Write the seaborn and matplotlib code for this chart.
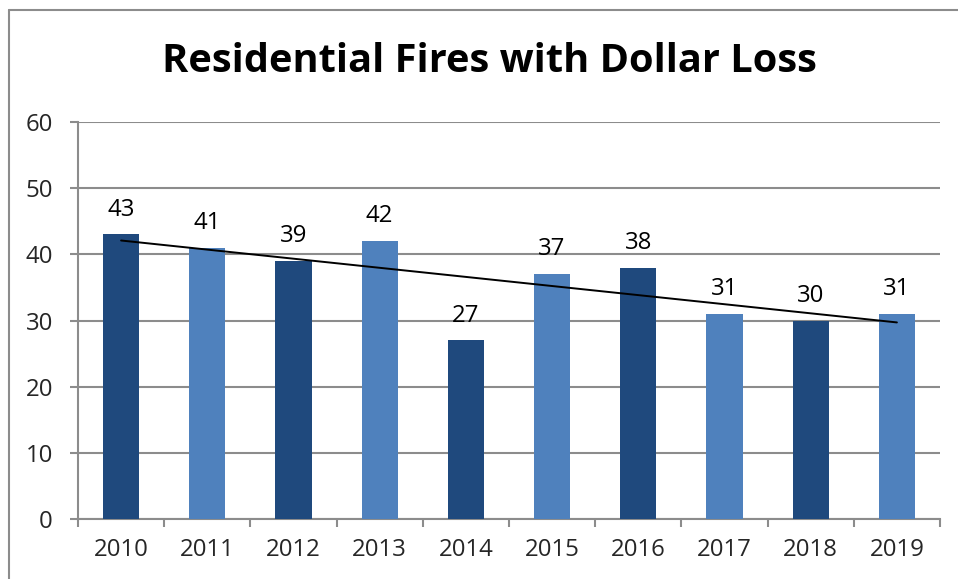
import numpy as np
import pandas as pd
import matplotlib
matplotlib.use("Agg")
import matplotlib.pyplot as plt
from matplotlib.lines import Line2D
import seaborn as sns

# Residential fires with dollar loss, by year
years = ["2010", "2011", "2012", "2013", "2014", "2015", "2016", "2017", "2018", "2019"]
fires = [43, 41, 39, 42, 27, 37, 38, 31, 30, 31]
y_ticks = [0, 10, 20, 30, 40, 50, 60]

dark_blue = "#1F497D"
light_blue = "#4F81BD"
grid_gray = "#8C8C8C"
bar_colors = [dark_blue if i % 2 == 0 else light_blue for i in range(len(years))]

sns.set_theme(style="white")
plt.rcParams["font.family"] = ["Open Sans", "DejaVu Sans"]

df = pd.DataFrame({"year": years, "fires": fires})

fig = plt.figure(figsize=(9.58, 5.79), dpi=100)
ax = fig.add_axes([78 / 958, 1 - 519 / 579, (940 - 78) / 958, (519 - 122) / 579])

sns.barplot(data=df, x="year", y="fires", hue="year", palette=bar_colors,
            width=0.42, legend=False, ax=ax, zorder=3, saturation=1,
            edgecolor="none", linewidth=0)

# Linear trendline across the years
xs = np.arange(len(years))
slope, intercept = np.polyfit(xs, fires, 1)
ax.plot(xs, slope * xs + intercept, color="black", lw=1.4, zorder=4)

# Value labels above each bar
for i, v in enumerate(fires):
    ax.annotate(str(v), (i, v), xytext=(0, 13.5), textcoords="offset points",
                ha="center", va="baseline", fontsize=17.3, color="black")

ax.set_ylim(0, 60)
ax.set_xlim(-0.5, len(years) - 0.5)
ax.set_yticks(y_ticks)
ax.yaxis.grid(True, color=grid_gray, lw=1.5, zorder=0)
ax.set_axisbelow(True)
ax.set_xlabel("")
ax.set_ylabel("")

for side in ["top", "right"]:
    ax.spines[side].set_visible(False)
for side in ["left", "bottom"]:
    ax.spines[side].set_color(grid_gray)
    ax.spines[side].set_linewidth(1.5)

ax.tick_params(axis="y", direction="out", length=6, width=1.5, color=grid_gray,
               pad=12, labelsize=17.3, left=True)
ax.tick_params(axis="x", which="major", length=0, pad=14, labelsize=17.3)
ax.set_xticks(np.arange(-0.5, len(years), 1), minor=True)
ax.tick_params(axis="x", which="minor", direction="out", length=6, width=1.5,
               color=grid_gray, bottom=True)

fig.text(489 / 958, 1 - 62 / 579, "Residential Fires with Dollar Loss",
         ha="center", va="center", fontsize=28.6, fontweight="bold", color="black")

# Outer chart frame (top and left edges)
fig.add_artist(Line2D([8.5 / 958, 8.5 / 958], [0, 1 - 9.5 / 579],
                      transform=fig.transFigure, color=grid_gray, lw=1.5))
fig.add_artist(Line2D([8.5 / 958, 1], [1 - 9.5 / 579, 1 - 9.5 / 579],
                      transform=fig.transFigure, color=grid_gray, lw=1.5))

fig.savefig("out.png", dpi=100)
